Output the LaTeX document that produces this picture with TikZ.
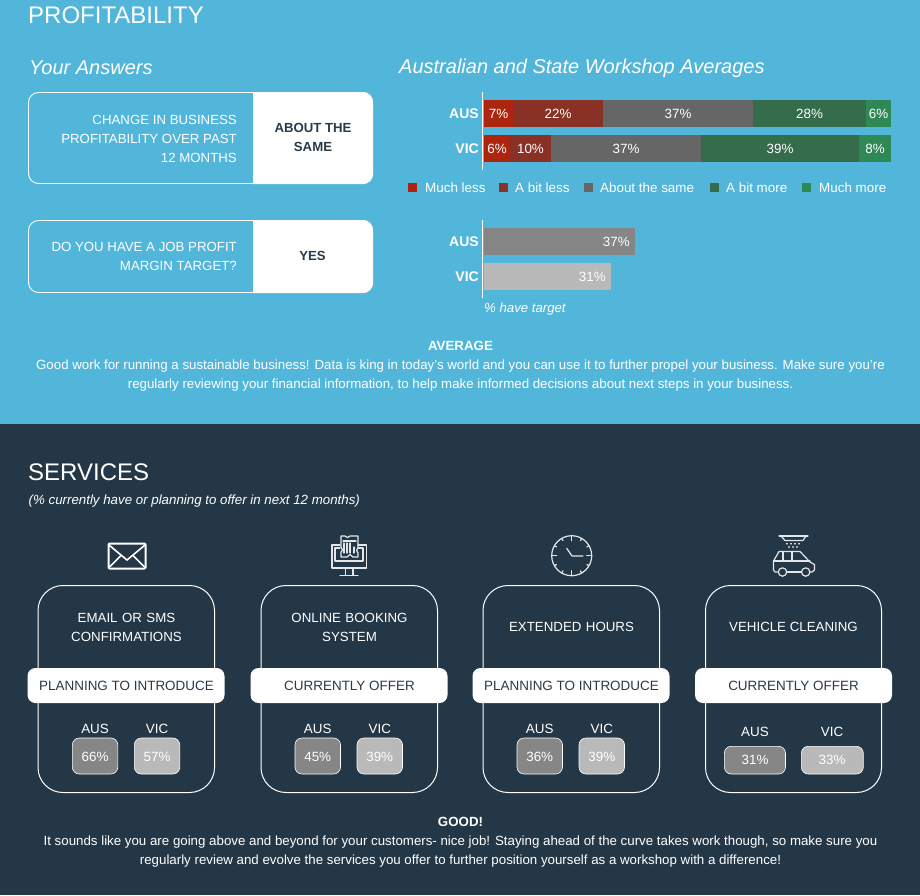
\documentclass[tikz,border=0pt]{standalone}
\usepackage{fontspec}
\setmainfont{Liberation Sans}
\definecolor{skyb}{HTML}{52B6DB}
\definecolor{navy}{HTML}{243746}
\definecolor{ink}{HTML}{2A3A48}
\definecolor{mless}{HTML}{AD250E}
\definecolor{bless}{HTML}{883124}
\definecolor{same}{HTML}{666666}
\definecolor{bmore}{HTML}{346C4C}
\definecolor{mmore}{HTML}{2E8957}
\definecolor{gausd}{HTML}{868686}
\definecolor{gvicd}{HTML}{B9B9B9}
\definecolor{icon}{HTML}{E4E7E9}
\tikzset{
 x=1pt,y=-1pt,
 txt/.style={text=white,inner sep=0pt,font=\fontsize{13.4}{19}\selectfont},
 head/.style={txt,anchor=west,font=\fontsize{24}{28}\selectfont},
 sub/.style={txt,anchor=west,font=\fontsize{20}{24}\selectfont\itshape},
 para/.style={txt,align=center,font=\fontsize{13.3}{19}\selectfont},
 outline/.style={draw=white,line width=0.9pt,rounded corners=10pt},
 qtext/.style={txt,align=right,anchor=east,font=\fontsize{13.25}{19}\selectfont},
 atext/.style={inner sep=0pt,text=ink,align=center,font=\fontsize{13.2}{19}\selectfont\bfseries},
 barlab/.style={txt,font=\fontsize{13.4}{16}\selectfont},
 rowlab/.style={txt,anchor=east,font=\fontsize{14}{16}\selectfont\bfseries},
 card/.style={draw=white,line width=1pt,rounded corners=25pt},
 pill/.style={fill=white,rounded corners=8pt},
 pilltxt/.style={inner sep=0pt,text=ink,font=\fontsize{13.45}{16}\selectfont},
 valA/.style={fill=gausd,draw=white,line width=0.6pt,rounded corners=7pt},
 valV/.style={fill=gvicd,draw=white,line width=0.6pt,rounded corners=7pt},
 ic/.style={draw=icon,line width=1.2pt,line cap=round,line join=round},
 icb/.style={draw=white,line width=2pt,line join=round,rounded corners=1pt},
}
\newcommand{\segm}[6]{% x1,x2,y1,y2,colour,label
 \fill[#5] (#1,#3) rectangle (#2,#4);
 \node[barlab] (seg#1y#3) at ({(#1+#2)/2},{(#3+#4)/2}) {#6};}
\newcommand{\legitem}[4]{% xsq,xtxt,colour,text
 \fill[#3] (#1,183) rectangle ++(9,9);
 \node[txt,anchor=west,font=\fontsize{13.4}{16}\selectfont] (leg#1) at (#2,187.5) {#4};}
\newcommand{\servcard}[8]{% x1,text,pill,xA,xV,width,vA,vV
 \draw[card] (#1,585.5) rectangle (#1+176.5,792.5);
 \node[para,text width=170pt] (title#1) at ({#1+88.5},{627.3}) {#2};
 \fill[pill] ({#1-10.5},668) rectangle ++(197,35);
 \node[pilltxt] (pill#1) at ({#1+88.5},685.5) {#3};
 \draw[valA] (#4,738) rectangle ++(#6,36);
 \draw[valV] (#5,738) rectangle ++(#6,36);
 \node[txt] (la#1) at ({#4+#6/2},728.5) {AUS};
 \node[txt] (lv#1) at ({#5+#6/2},728.5) {VIC};
 \node[txt] (va#1) at ({#4+#6/2},756.5) {#7};
 \node[txt] (vv#1) at ({#5+#6/2},756.5) {#8};}
\begin{document}
\begin{tikzpicture}
\useasboundingbox (0,0) rectangle (920,895);
\fill[skyb] (0,0) rectangle (920,424);
\fill[navy] (0,424) rectangle (920,895);

\node[head] (h1) at (28,15) {PROFITABILITY};
\node[sub] (s1) at (29,67.5) {Your Answers};
\node[sub] (s2) at (399,68.5) {Australian and State Workshop Averages};

% answer boxes
\fill[white,rounded corners=10pt] (240,92) rectangle (373,184);
\fill[skyb] (230,91) rectangle (253,185);
\draw[outline] (28.5,92.5) rectangle (372.5,183.5);
\node[qtext] (q1) at (237,138.5) {CHANGE IN BUSINESS\\PROFITABILITY OVER PAST\\12 MONTHS};
\node[atext] (a1) at (313,137.5) {ABOUT THE\\SAME};
\fill[white,rounded corners=10pt] (240,220) rectangle (373,293);
\fill[skyb] (230,219) rectangle (253,294);
\draw[outline] (28.5,220.5) rectangle (372.5,292.5);
\node[qtext] (q2) at (237,256.5) {DO YOU HAVE A JOB PROFIT\\MARGIN TARGET?};
\node[atext] (a2) at (312.5,256) {YES};

% stacked bars
\draw[white,line width=1pt] (482.5,92) -- (482.5,170);
\node[rowlab] (ra1) at (479,113.5) {AUS};
\node[rowlab] (rv1) at (479,148.5) {VIC};
\segm{484}{513.3}{100}{127}{mless}{7\%}
\segm{513.3}{603}{100}{127}{bless}{22\%}
\segm{603}{753}{100}{127}{same}{37\%}
\segm{753}{866}{100}{127}{bmore}{28\%}
\segm{866}{891}{100}{127}{mmore}{6\%}
\segm{484}{510}{135}{162}{mless}{6\%}
\segm{510}{551}{135}{162}{bless}{10\%}
\segm{551}{701}{135}{162}{same}{37\%}
\segm{701}{859}{135}{162}{bmore}{39\%}
\segm{859}{891}{135}{162}{mmore}{8\%}

% legend
\legitem{408}{425}{mless}{Much less}
\legitem{499}{515}{bless}{A bit less}
\legitem{584}{600}{same}{About the same}
\legitem{710}{726}{bmore}{A bit more}
\legitem{802}{819}{mmore}{Much more}

% target bars
\draw[white,line width=1pt] (482.5,220) -- (482.5,298);
\node[rowlab] (ra2) at (479,241.5) {AUS};
\node[rowlab] (rv2) at (479,276.5) {VIC};
\fill[gausd] (484,228) rectangle (635,255);
\fill[gvicd] (484,263) rectangle (611,290);
\node[barlab,anchor=east] (t1) at (630,241.5) {37\%};
\node[barlab,anchor=east] (t2) at (606,276.5) {31\%};
\node[txt,anchor=west,font=\fontsize{13.2}{16}\selectfont\itshape] (t3) at (484,309) {\% have target};

\node[para] (p1) at (460.5,366) {\textbf{AVERAGE}\\Good work for running a sustainable business! Data is king in today's world and you can use it to further propel your business. Make sure you're\\regularly reviewing your financial information, to help make informed decisions about next steps in your business.};

% services
\node[head] (h2) at (28,472) {SERVICES};
\node[txt,anchor=west,font=\fontsize{13.3}{16}\selectfont\itshape] (s3) at (28.5,501) {(\% currently have or planning to offer in next 12 months)};

\servcard{38}{EMAIL OR SMS\\CONFIRMATIONS}{PLANNING TO INTRODUCE}{72.3}{134.3}{45.5}{66\%}{57\%}
\servcard{261}{ONLINE BOOKING\\SYSTEM}{CURRENTLY OFFER}{295}{357}{45.5}{45\%}{39\%}
\servcard{483}{EXTENDED HOURS}{PLANNING TO INTRODUCE}{517}{579}{45.5}{36\%}{39\%}
% card 4 has wider, shorter value boxes
\draw[card] (705.5,585.5) rectangle (881.5,792.5);
\node[para] (title705) at (793.5,627.3) {VEHICLE CLEANING};
\fill[pill] (695,668) rectangle ++(197,35);
\node[pilltxt] (pill705) at (793.5,685.5) {CURRENTLY OFFER};
\draw[valA] (724.3,746.3) rectangle (785.5,774);
\draw[valV] (801.3,746.3) rectangle (863.3,774);
\node[txt] (la705) at (755,732) {AUS};
\node[txt] (lv705) at (832,732) {VIC};
\node[txt] (va705) at (755,760.3) {31\%};
\node[txt] (vv705) at (832,760.3) {33\%};

\node[para] (p2) at (460.5,842) {\textbf{GOOD!}\\It sounds like you are going above and beyond for your customers- nice job! Staying ahead of the curve takes work though, so make sure you\\regularly review and evolve the services you offer to further position yourself as a workshop with a difference!};

% envelope icon
\draw[icb] (108.5,543.5) rectangle (145.5,568.5);
\draw[draw=white,line width=1.6pt] (109,545) -- (127,560) -- (145,545);
\draw[draw=white,line width=1.6pt] (109,567.5) -- (121,555.5) (145,567.5) -- (133,555.5);

% booking icon
\begin{scope}[ic]
\draw (340,545) -- (332,545) -- (332,568) -- (366.5,568) -- (366.5,545) -- (358,545);
\draw (340,548) -- (335,548) -- (335,561) -- (363,561) -- (363,548) -- (358,548);
\draw (345.5,568) -- (345.5,575) (353,568) -- (353,575);
\draw (340,575.5) -- (358,575.5);
\draw (341,536) -- (345,536) .. controls (346,538) and (349,538) .. (350,536) -- (354,536) -- (358,536) -- (358,548) -- (356.5,550) -- (358,553) -- (358,557) -- (353,557) -- (350,554.5) -- (347,557) -- (341,557) -- (341,552) -- (342.5,550) -- (341,547) -- cycle;
\draw (344,543) -- (344,553) (347,543) -- (347,553) (350,543) -- (350,553);
\draw (343,541) -- (356,541);
\draw (354,547) -- (354,553);
\end{scope}

% clock icon
\begin{scope}[ic]
\draw (571.7,555.7) circle (20);
\foreach \a in {0,90,180,270} \draw (571.7,555.7) ++(\a:20) -- ++(\a+180:5);
\foreach \a in {30,60,120,150,210,240,300,330} \draw (571.7,555.7) ++(\a:20) -- ++(\a+180:2.5);
\draw (566.7,548.3) -- (572,556) -- (583,556);
\end{scope}

% car icon
\begin{scope}[ic]
\draw (779,536) -- (808,536);
\draw (781,536) -- (785,540.5) -- (803,540.5) -- (806,536);
\foreach \q in {787,791,795,799} \draw (\q,543.5) -- (\q,544);
\foreach \q in {789,793,797} \draw (\q,546.7) -- (\q,547.2);
\draw (777.5,572) -- (775,572) -- (773.5,570) -- (773.5,561) -- (779,551.5) -- (800,551.5) -- (810,562) -- (814.5,564.5) -- (814.5,570) -- (812,572) -- (810,572);
\draw (787.5,572) -- (801,572);
\draw (773.5,561) -- (810,561);
\draw (783,551.5) -- (783,561) (792,551.5) -- (792,561);
\draw (782.5,572) circle (4.2) (805.7,572) circle (4.2);
\end{scope}
\end{tikzpicture}
\end{document}
